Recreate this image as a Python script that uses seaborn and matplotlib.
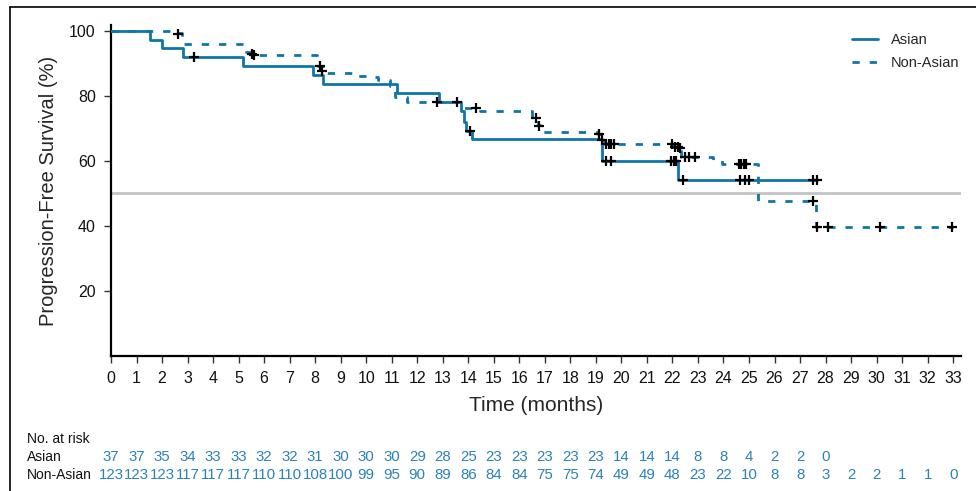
import numpy as np
import pandas as pd
import matplotlib.pyplot as plt
from matplotlib.lines import Line2D
import seaborn as sns

sns.set_theme(style="white")
plt.rcParams['font.family'] = ['Liberation Sans', 'DejaVu Sans']

# KM step curves
asian_t = [0, 1.53, 2.01, 2.83, 5.16, 7.9, 8.32, 11.2, 12.87, 13.7, 13.83, 13.9, 14.13, 19.23, 22.23, 27.65]
asian_s = [100, 97.3, 94.6, 91.9, 89.2, 86.5, 83.8, 80.9, 78.0, 75.2, 72.1, 69.3, 66.7, 60.1, 54.2, 54.2]
nonasian_t = [0, 2.55, 2.8, 5.3, 5.45, 8.06, 8.3, 9.45, 10.0, 10.46, 10.93, 11.13, 11.59, 13.78, 14.45,
              16.48, 16.72, 16.85, 19.1, 19.35, 22.0, 22.35, 23.6, 23.95, 25.37, 27.62, 33.0]
nonasian_s = [100, 99.2, 95.9, 93.5, 92.5, 89.3, 86.9, 86.2, 85.7, 85.0, 83.0, 79.8, 78.0, 76.2, 75.2,
              73.1, 71.0, 69.0, 68.2, 65.2, 64.4, 61.3, 60.3, 59.0, 47.7, 39.6, 39.6]

# censored observations
asian_cens_t = [3.25, 13.55, 14.05, 19.38, 19.6, 21.95, 22.05, 22.15, 22.43, 24.65, 24.85, 25.0, 27.5, 27.65]
asian_cens_s = [91.9, 78.0, 69.3, 60.1, 60.1, 60.1, 60.1, 60.1, 54.2, 54.2, 54.2, 54.2, 54.2, 54.2]
nonasian_cens_t = [2.64, 5.52, 5.6, 8.18, 8.28, 12.76, 14.3, 16.65, 16.77, 19.14, 19.25, 19.4, 19.5, 19.6, 19.7,
                   22.0, 22.1, 22.2, 22.3, 22.5, 22.65, 22.9, 24.6, 24.7, 24.8, 24.9,
                   27.5, 27.65, 28.1, 30.13, 32.94]
nonasian_cens_s = [99.0, 92.8, 92.6, 89.3, 87.5, 78.0, 76.2, 73.1, 70.8, 68.2, 66.5, 65.2, 65.2, 65.2, 65.2,
                   65.2, 64.4, 64.4, 64.0, 61.3, 61.3, 61.3, 59.0, 59.0, 59.0, 59.0,
                   47.7, 39.6, 39.6, 39.6, 39.6]

# number at risk
risk_months = list(range(34))
asian_risk = [37, 37, 35, 34, 33, 33, 32, 32, 31, 30, 30, 30, 29, 28, 25, 23, 23, 23, 23, 23,
              14, 14, 14, 8, 8, 4, 2, 2, 0]
nonasian_risk = [123, 123, 123, 117, 117, 117, 110, 110, 108, 100, 99, 95, 90, 89, 86, 84, 84, 75, 75, 74,
                 49, 49, 48, 23, 22, 10, 8, 8, 3, 2, 2, 1, 1, 0]

blue = "#0f75a8"
num_blue = "#2a82b8"
dash = (0, (2.6, 3.6))

fig = plt.figure(figsize=(9.76, 4.91), dpi=100)
ax = fig.add_axes([111 / 976, 1 - 356 / 491, 849.8 / 976, 331 / 491])

ax.axhline(50, color="#c4c4c4", lw=2, zorder=1)

sns.lineplot(x=asian_t, y=asian_s, drawstyle="steps-post", color=blue, lw=2.0,
             estimator=None, sort=False, ax=ax, zorder=3)
sns.lineplot(x=nonasian_t, y=nonasian_s, drawstyle="steps-post", color=blue, lw=2.0,
             linestyle=dash, estimator=None, sort=False, ax=ax, zorder=3)

sns.scatterplot(x=asian_cens_t, y=asian_cens_s, marker="+", color="black", s=55,
                linewidth=1.6, ax=ax, zorder=5, legend=False)
sns.scatterplot(x=nonasian_cens_t, y=nonasian_cens_s, marker="+", color="black", s=55,
                linewidth=1.6, ax=ax, zorder=5, legend=False)

ax.set_xlim(0, 33.3)
ax.set_ylim(0, 101.8)
ax.set_xticks(range(34))
ax.set_yticks([20, 40, 60, 80, 100])
ax.tick_params(axis="both", direction="out", length=5, width=1, color="#333333",
               labelsize=11.5, labelcolor="#111111", bottom=True, left=True, pad=6)
for side in ["top", "right"]:
    ax.spines[side].set_visible(False)
for side in ["left", "bottom"]:
    ax.spines[side].set_color("black")
    ax.spines[side].set_linewidth(1.6)
ax.set_xlabel("Time (months)", fontsize=15, labelpad=7)
ax.set_ylabel("Progression-Free Survival (%)", fontsize=14.5, labelpad=8)

handles = [Line2D([], [], color=blue, lw=2.0),
           Line2D([], [], color=blue, lw=2.0, linestyle=dash)]
ax.legend(handles, ["Asian", "Non-Asian"], loc="upper right", bbox_to_anchor=(1.014, 1.015),
          frameon=False, fontsize=10.5, handlelength=1.8, handletextpad=0.9, labelspacing=0.6)

# risk table
trans = ax.get_xaxis_transform()
fig.text(27 / 976, 1 - 439 / 491, "No. at risk", fontsize=10, va="center", ha="left", color="#111111")
fig.text(27 / 976, 1 - 457 / 491, "Asian", fontsize=10, va="center", ha="left", color="#111111")
fig.text(27 / 976, 1 - 475 / 491, "Non-Asian", fontsize=10, va="center", ha="left", color="#111111")
y_a = -(457 - 356) / 331
y_n = -(475 - 356) / 331
for m, n in zip(risk_months, asian_risk):
    ax.text(m, y_a, str(n), transform=trans, ha="center", va="center", fontsize=10.8,
            color=num_blue, clip_on=False)
for m, n in zip(risk_months, nonasian_risk):
    ax.text(m, y_n, str(n), transform=trans, ha="center", va="center", fontsize=10.8,
            color=num_blue, clip_on=False)

# outer frame
fx = 10 / 976
fy = 1 - 7 / 491
fig.add_artist(Line2D([fx, fx], [0, fy], color="black", lw=1.2, transform=fig.transFigure))
fig.add_artist(Line2D([fx, 1], [fy, fy], color="black", lw=1.2, transform=fig.transFigure))

fig.savefig("out.png", dpi=100)
